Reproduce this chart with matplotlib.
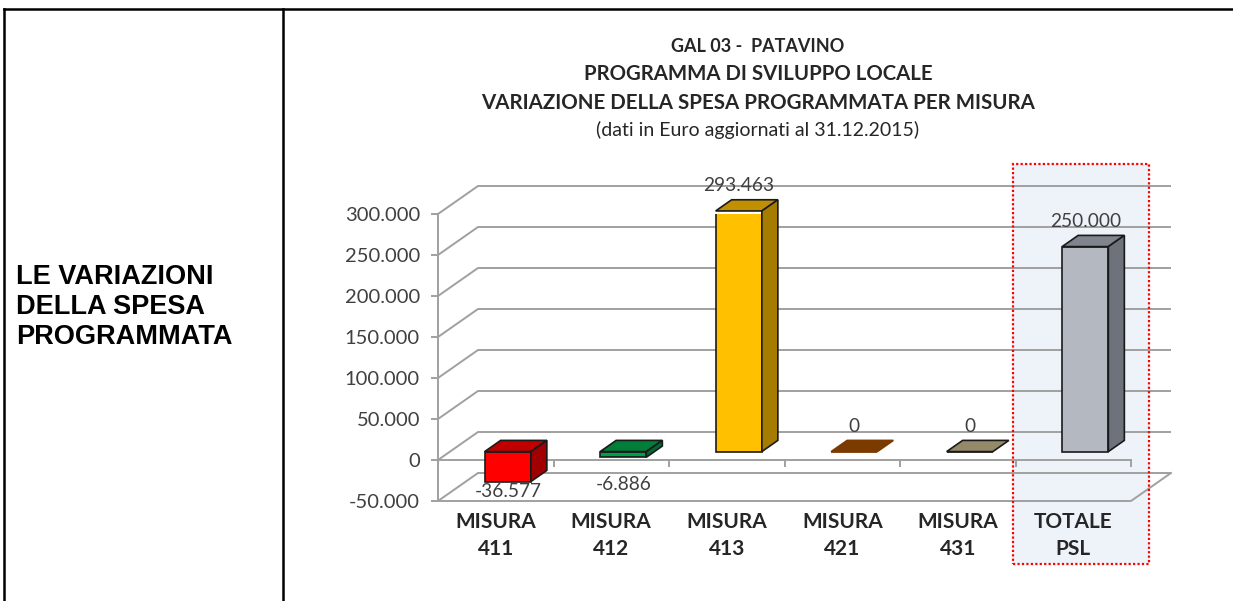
import matplotlib.pyplot as plt
from matplotlib.patches import Polygon, Rectangle
from matplotlib.lines import Line2D
from matplotlib.ticker import FuncFormatter

# ----------------- DATA -----------------
CATEGORIES = ["MISURA\n411", "MISURA\n412", "MISURA\n413", "MISURA\n421", "MISURA\n431", "TOTALE\nPSL"]
VALUES = [-36577, -6886, 293463, 0, 0, 250000]

FRONT_COLORS = ["#FF0000", "#00A04A", "#FFC000", "#7B3A00", "#948A6A", "#B4B8C0"]
TOP_COLORS = ["#C00000", "#007E3A", "#C09000", "#7B3A00", "#948A6A", "#80848C"]
SIDE_COLORS = ["#A00000", "#006B31", "#A67C00", "#7B3A00", "#948A6A", "#6E727A"]
EDGE_COLORS = ["#1A1A1A", "#1A1A1A", "#1A1A1A", "#7B3A00", "#1A1A1A", "#1A1A1A"]
LABEL_OFFSET_PX = [-10, -27, 25, 25, 25, 25]

Y_TICKS = [-50000, 0, 50000, 100000, 150000, 200000, 250000, 300000]

TITLE_LINES = ["GAL 03 -  PATAVINO",
               "PROGRAMMA DI SVILUPPO LOCALE",
               "VARIAZIONE DELLA SPESA PROGRAMMATA PER MISURA"]
SUBTITLE = "(dati in Euro aggiornati al 31.12.2015)"
LEFT_TEXT = "LE VARIAZIONI\nDELLA SPESA\nPROGRAMMATA"

# ----------------- LAYOUT (pixels) -----------------
W, H = 1233, 601
AX_L, AX_R, AX_T, AX_B = 438, 1131, 214, 501
WALL_DX_PX, WALL_DY_PX = 40, 28
GRID = "#A0A0A0"
TXT = "#404040"
FONT = "Lato"


def fx(px):
    return px / W


def fy(py):
    return 1 - py / H


def it_fmt(v):
    return f"{int(v):,}".replace(",", ".")


fig = plt.figure(figsize=(W / 100, H / 100), dpi=100)
fig.patch.set_facecolor("white")

# highlight box behind TOTALE PSL
fig.add_artist(Rectangle((fx(1013), fy(564)), fx(1149) - fx(1013), fy(164) - fy(564),
                         transform=fig.transFigure, facecolor="#EEF3FA",
                         edgecolor="none", zorder=-5))

ax = fig.add_axes([fx(AX_L), fy(AX_B), fx(AX_R) - fx(AX_L), fy(AX_T) - fy(AX_B)])
ax.patch.set_visible(False)
ax.set_xlim(-0.5, len(CATEGORIES) - 0.5)
ax.set_ylim(Y_TICKS[0], Y_TICKS[-1])

# pixel -> data conversion
px_x = (AX_R - AX_L) / len(CATEGORIES)
px_y = (AX_B - AX_T) / (Y_TICKS[-1] - Y_TICKS[0])
DX = WALL_DX_PX / px_x
DY = WALL_DY_PX / px_y
x_lo, x_hi = -0.5, len(CATEGORIES) - 0.5

# walls / gridlines
for yt in Y_TICKS:
    ax.plot([x_lo, x_lo + DX, x_hi + DX], [yt, yt + DY, yt + DY],
            color=GRID, lw=1.4, clip_on=False, zorder=1, solid_capstyle="butt")
# floor
ax.plot([x_lo, x_hi, x_hi + DX], [Y_TICKS[0], Y_TICKS[0], Y_TICKS[0] + DY],
        color=GRID, lw=1.4, clip_on=False, zorder=1)
# category axis at zero with tick marks
ax.plot([x_lo, x_hi], [0, 0], color=GRID, lw=1.4, clip_on=False, zorder=1)
for b in range(len(CATEGORIES) + 1):
    ax.plot([b - 0.5, b - 0.5], [0, -6 / px_y], color=GRID, lw=1.4, clip_on=False, zorder=1)

# bars
BW = 0.4
xs = [i + 0.3 * DX for i in range(len(CATEGORIES))]
base = 0.3 * DY
ax.bar(xs, VALUES, width=BW, bottom=base, color=FRONT_COLORS,
       edgecolor=EDGE_COLORS, linewidth=1.2, zorder=4)
for i, v in enumerate(VALUES):
    x0, x1 = xs[i] - BW / 2, xs[i] + BW / 2
    ddx, ddy = 0.4 * DX, 0.4 * DY
    top = base + max(v, 0)
    bot = base + min(v, 0)
    ax.add_patch(Polygon([(x0, top), (x1, top), (x1 + ddx, top + ddy), (x0 + ddx, top + ddy)],
                         closed=True, facecolor=TOP_COLORS[i], edgecolor=EDGE_COLORS[i],
                         lw=1.2, zorder=5, clip_on=False))
    if v != 0:
        ax.add_patch(Polygon([(x1, bot), (x1, top), (x1 + ddx, top + ddy), (x1 + ddx, bot + ddy)],
                             closed=True, facecolor=SIDE_COLORS[i], edgecolor=EDGE_COLORS[i],
                             lw=1.2, zorder=5, clip_on=False))
    ax.annotate(it_fmt(v), (xs[i], base + v), xytext=(0, LABEL_OFFSET_PX[i] * 0.72),
                textcoords="offset points", ha="center", va="center",
                fontsize=13.8, color=TXT, family=FONT, zorder=6, annotation_clip=False)

# axes styling
for s in ["top", "right", "bottom"]:
    ax.spines[s].set_visible(False)
ax.spines["left"].set_color(GRID)
ax.spines["left"].set_linewidth(1.4)
ax.set_yticks(Y_TICKS)
ax.yaxis.set_major_formatter(FuncFormatter(lambda v, p: it_fmt(v)))
ax.tick_params(axis="y", length=5, width=1.4, color=GRID, labelcolor=TXT,
               labelsize=14.5, pad=8)
for lab in ax.get_yticklabels():
    lab.set_family(FONT)
ax.set_xticks(range(len(CATEGORIES)))
ax.set_xticklabels(CATEGORIES, fontsize=15, fontweight="bold", color="#262626",
                   family=FONT, linespacing=1.42)
ax.tick_params(axis="x", length=0, pad=8)

# highlight dotted border on top
fig.add_artist(Rectangle((fx(1013), fy(564)), fx(1149) - fx(1013), fy(164) - fy(564),
                         transform=fig.transFigure, facecolor="none",
                         edgecolor="#FF0000", lw=1.6, linestyle=(0, (1, 1)), zorder=10))

# titles
title_y = [46, 74, 103]
title_sz = [13, 14.7, 14.8]
for t, yy, sz in zip(TITLE_LINES, title_y, title_sz):
    fig.text(fx(758), fy(yy), t, ha="center", va="center", fontsize=sz,
             fontweight="bold", color="#262626", family=FONT)
fig.text(fx(758), fy(130), SUBTITLE, ha="center", va="center", fontsize=14,
         color="#262626", family=FONT)

# table borders
fig.add_artist(Line2D([fx(4), 1], [fy(9), fy(9)], transform=fig.transFigure,
                      color="black", lw=1.8))
for xx in [4, 283]:
    fig.add_artist(Line2D([fx(xx), fx(xx)], [fy(9), 0], transform=fig.transFigure,
                          color="black", lw=1.8))
fig.text(fx(16), fy(307), LEFT_TEXT, ha="left", va="center", fontsize=19.5,
         fontweight="bold", family="Liberation Sans", linespacing=1.22)

fig.savefig("out.png", dpi=100)
